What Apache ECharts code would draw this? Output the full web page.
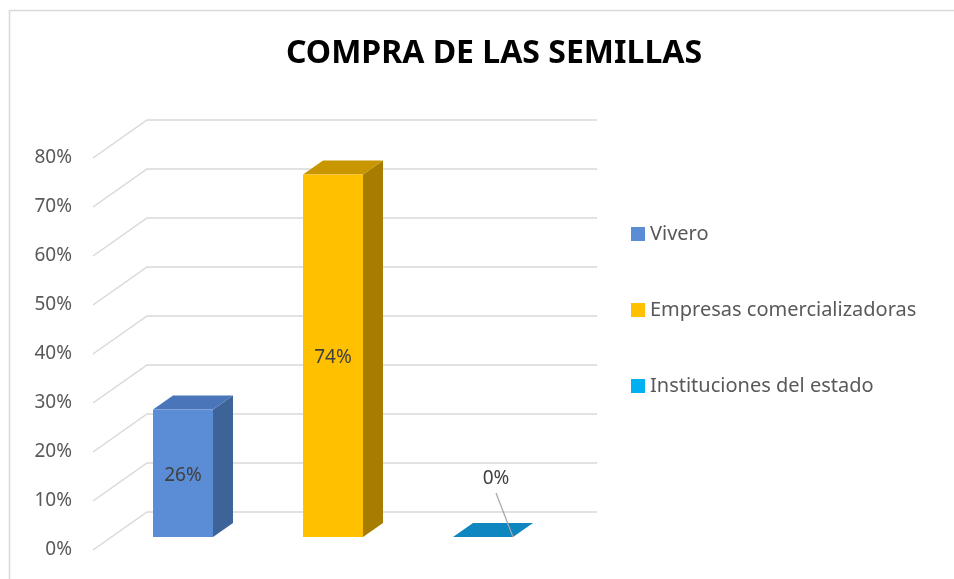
<!DOCTYPE html>
<html lang="es">
<head>
    <meta charset="UTF-8">
    <title>Compra de las semillas</title>
    <script src="https://cdn.jsdelivr.net/npm/echarts@6/dist/echarts.min.js"></script>
    <style>
        html, body { margin: 0; padding: 0; background: #fff; }
        #main { width: 954px; height: 579px; }
    </style>
</head>
<body>
<div id="main"></div>
<script>
    // datos
    const categories = ['Vivero', 'Empresas comercializadoras', 'Instituciones del estado'];
    const values = [0.26, 0.74, 0];
    const yTicks = [0, 0.1, 0.2, 0.3, 0.4, 0.5, 0.6, 0.7, 0.8];

    // colores: frente, lado, tapa, leyenda
    const faceColors = [
        { front: '#5b8dd6', side: '#3d6399', top: '#4a76b9', legend: '#5b8dd6' },
        { front: '#ffc000', side: '#a67d00', top: '#c89700', legend: '#ffc000' },
        { front: '#00a5e0', side: '#006c94', top: '#0e87c0', legend: '#00b0f0' }
    ];

    const FONT = '"Noto Sans", "Open Sans", sans-serif';
    // profundidad del piso (frente -> pared de fondo)
    const FLOOR_DX = 54, FLOOR_DY = -38;
    // plano de las barras y grosor de la barra
    const BAR_DX = 15, BAR_DY = -13, DEPTH_DX = 20, DEPTH_DY = -14, BAR_W = 60;

    function gridLines(params, api) {
        const cs = params.coordSys;
        const y = api.coord([0, api.value(1)])[1];
        const x0 = cs.x;
        return {
            type: 'polyline',
            shape: { points: [[x0, y], [x0 + FLOOR_DX, y + FLOOR_DY], [x0 + FLOOR_DX + cs.width, y + FLOOR_DY]] },
            style: { stroke: '#d9d9d9', lineWidth: 1.5, fill: null },
            silent: true
        };
    }

    function bar3d(params, api) {
        const i = api.value(0);
        const v = api.value(1);
        const c = faceColors[i];
        const base = api.coord([i, 0]);
        const topP = api.coord([i, v]);
        const l = base[0] + BAR_DX - BAR_W / 2;
        const r = l + BAR_W;
        const b = base[1] + BAR_DY;
        const t = topP[1] + BAR_DY;
        const children = [
            { type: 'polygon', shape: { points: [[r, t], [r + DEPTH_DX, t + DEPTH_DY], [r + DEPTH_DX, b + DEPTH_DY], [r, b]] },
              style: { fill: c.side } },
            { type: 'polygon', shape: { points: [[l, t], [l + DEPTH_DX, t + DEPTH_DY], [r + DEPTH_DX, t + DEPTH_DY], [r, t]] },
              style: { fill: c.top } },
            { type: 'rect', shape: { x: l, y: t, width: BAR_W, height: b - t },
              style: { fill: c.front } }
        ];
        const txt = Math.round(v * 100) + '%';
        if (b - t > 30) {
            children.push({ type: 'text', style: { x: (l + r) / 2, y: (t + b) / 2 + 2, text: txt,
                align: 'center', verticalAlign: 'middle', fill: '#404040', font: '19px ' + FONT } });
        } else {
            const lx = (l + r) / 2 + 13;
            children.push({ type: 'line', shape: { x1: lx, y1: b - 44, x2: r, y2: b },
                style: { stroke: '#a6a6a6', lineWidth: 1.2 } });
            children.push({ type: 'text', style: { x: lx, y: b - 58, text: txt,
                align: 'center', verticalAlign: 'middle', fill: '#404040', font: '19px ' + FONT } });
        }
        return { type: 'group', children: children };
    }

    const series = [{
        type: 'custom',
        name: 'grid',
        renderItem: gridLines,
        data: yTicks.map(t => [0, t]),
        z: 1,
        silent: true
    }];
    categories.forEach((name, i) => {
        series.push({
            type: 'custom',
            name: name,
            renderItem: bar3d,
            itemStyle: { color: faceColors[i].legend },
            data: [[i, values[i]]],
            z: 2
        });
    });

    const myChart = echarts.init(document.getElementById('main'));
    const option = {
        backgroundColor: '#fff',
        animation: false,
        title: {
            text: 'COMPRA DE LAS SEMILLAS',
            left: 489,
            top: 33,
            textAlign: 'center',
            textStyle: { fontFamily: FONT, fontSize: 32, fontWeight: 'bold', color: '#000' }
        },
        graphic: [{
            type: 'rect',
            shape: { x: 9.5, y: 10.5, width: 1000, height: 700 },
            style: { fill: null, stroke: '#d9d9d9', lineWidth: 1.5 },
            silent: true
        }],
        legend: {
            data: categories,
            orient: 'vertical',
            left: 626,
            top: 219,
            itemWidth: 14,
            itemHeight: 14,
            itemGap: 56,
            icon: 'rect',
            textStyle: { fontFamily: FONT, fontSize: 20, color: '#595959', lineHeight: 20 }
        },
        grid: { left: 93, top: 158, width: 450, height: 392 },
        xAxis: {
            type: 'category',
            data: categories,
            axisLine: { show: false },
            axisTick: { show: false },
            axisLabel: { show: false }
        },
        yAxis: {
            type: 'value',
            min: 0,
            max: 0.8,
            interval: 0.1,
            axisLine: { show: false },
            axisTick: { show: false },
            splitLine: { show: false },
            axisLabel: {
                margin: 21,
                fontFamily: FONT,
                fontSize: 19,
                color: '#595959',
                padding: [6, 0, 0, 0],
                formatter: v => Math.round(v * 100) + '%'
            }
        },
        series: series
    };
    myChart.setOption(option);
</script>
</body>
</html>
